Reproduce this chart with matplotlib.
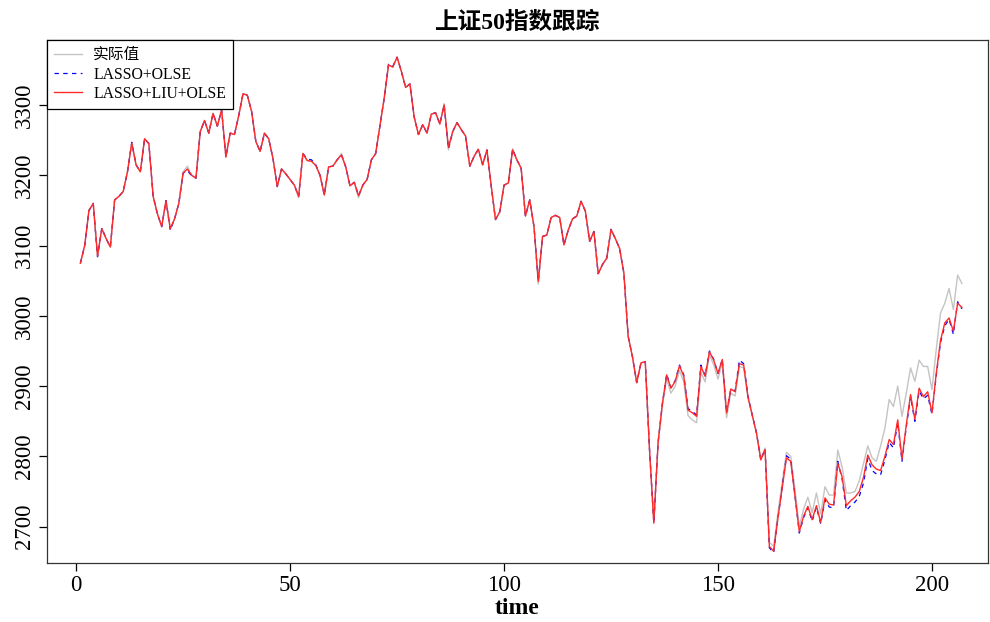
import matplotlib
matplotlib.use('Agg')
import matplotlib.pyplot as plt
import numpy as np

### SSE 50 index tracking: actual vs. two fitted portfolios

# LASSO+LIU+OLSE tracking values
liu = [3075, 3100, 3150, 3160, 3085, 3124, 3110, 3098, 3165, 3170,
       3177, 3205, 3246, 3215, 3205, 3252, 3245, 3170, 3145, 3127,
       3164, 3124, 3138, 3160, 3203, 3209, 3200, 3196, 3262, 3278,
       3260, 3288, 3270, 3293, 3226, 3260, 3258, 3285, 3316, 3314,
       3291, 3248, 3234, 3260, 3252, 3224, 3184, 3209, 3202, 3194,
       3186, 3170, 3231, 3221, 3220, 3214, 3200, 3172, 3212, 3213,
       3222, 3229, 3212, 3185, 3190, 3171, 3186, 3194, 3222, 3231,
       3270, 3310, 3357, 3354, 3368, 3348, 3325, 3330, 3283, 3258,
       3272, 3260, 3287, 3289, 3273, 3300, 3240, 3262, 3275, 3265,
       3256, 3213, 3227, 3237, 3215, 3236, 3185, 3137, 3148, 3186,
       3189, 3236, 3222, 3210, 3142, 3165, 3127, 3049, 3113, 3115,
       3140, 3143, 3140, 3101, 3122, 3138, 3142, 3163, 3149, 3106,
       3120, 3060, 3073, 3082, 3123, 3110, 3096, 3061, 2971, 2942,
       2905, 2933, 2935, 2809, 2705, 2820, 2875, 2916, 2897, 2907,
       2929, 2914, 2866, 2862, 2857, 2928, 2914, 2949, 2937, 2918,
       2938, 2862, 2896, 2892, 2932, 2930, 2885, 2859, 2833, 2795,
       2810, 2672, 2665, 2712, 2755, 2798, 2793, 2743, 2693, 2715,
       2729, 2710, 2730, 2706, 2741, 2732, 2731, 2790, 2771, 2730,
       2737, 2742, 2750, 2770, 2802, 2788, 2782, 2780, 2800, 2824,
       2817, 2852, 2796, 2845, 2888, 2853, 2897, 2885, 2892, 2862,
       2918, 2965, 2990, 2997, 2978, 3018, 3012]

# LASSO+OLSE tracking values
olse = [3075, 3100, 3150, 3160, 3084, 3125, 3110, 3098, 3165, 3170,
        3177, 3205, 3247, 3215, 3205, 3252, 3245, 3170, 3145, 3127,
        3164, 3122, 3138, 3160, 3203, 3207, 3199, 3196, 3262, 3278,
        3260, 3288, 3270, 3293, 3226, 3260, 3258, 3285, 3316, 3314,
        3291, 3248, 3234, 3260, 3252, 3224, 3184, 3209, 3202, 3194,
        3186, 3170, 3231, 3223, 3222, 3215, 3200, 3172, 3212, 3213,
        3222, 3229, 3212, 3185, 3190, 3171, 3186, 3194, 3222, 3231,
        3270, 3310, 3358, 3355, 3368, 3348, 3325, 3330, 3283, 3258,
        3272, 3260, 3287, 3289, 3273, 3300, 3238, 3262, 3275, 3265,
        3256, 3213, 3227, 3237, 3215, 3236, 3185, 3137, 3148, 3186,
        3189, 3237, 3222, 3210, 3142, 3165, 3127, 3049, 3113, 3115,
        3140, 3143, 3140, 3101, 3122, 3138, 3142, 3163, 3149, 3106,
        3120, 3060, 3073, 3082, 3123, 3110, 3096, 3061, 2971, 2942,
        2905, 2933, 2935, 2809, 2705, 2820, 2875, 2917, 2898, 2908,
        2930, 2916, 2868, 2864, 2859, 2930, 2915, 2950, 2938, 2918,
        2938, 2862, 2896, 2893, 2937, 2932, 2886, 2859, 2833, 2795,
        2810, 2670, 2663, 2712, 2757, 2801, 2796, 2743, 2691, 2713,
        2727, 2708, 2728, 2704, 2738, 2728, 2727, 2793, 2768, 2723,
        2730, 2735, 2743, 2762, 2797, 2780, 2775, 2774, 2795, 2820,
        2812, 2848, 2793, 2842, 2885, 2850, 2893, 2882, 2887, 2860,
        2915, 2962, 2986, 2995, 2974, 3020, 3010]

# actual index values
actual = [3075, 3100, 3150, 3160, 3085, 3124, 3110, 3098, 3165, 3170,
          3177, 3205, 3246, 3215, 3205, 3252, 3245, 3170, 3145, 3127,
          3164, 3124, 3138, 3160, 3205, 3213, 3200, 3196, 3262, 3278,
          3260, 3288, 3270, 3293, 3226, 3260, 3258, 3285, 3316, 3314,
          3291, 3248, 3234, 3260, 3252, 3224, 3184, 3209, 3202, 3194,
          3186, 3168, 3231, 3221, 3220, 3214, 3200, 3172, 3212, 3213,
          3222, 3231, 3212, 3185, 3190, 3168, 3186, 3194, 3222, 3231,
          3270, 3310, 3357, 3354, 3368, 3348, 3325, 3330, 3283, 3258,
          3272, 3260, 3287, 3289, 3273, 3302, 3236, 3262, 3275, 3265,
          3256, 3213, 3227, 3237, 3215, 3236, 3185, 3137, 3148, 3186,
          3189, 3238, 3222, 3210, 3142, 3165, 3127, 3045, 3113, 3115,
          3140, 3143, 3140, 3101, 3122, 3138, 3142, 3163, 3149, 3106,
          3120, 3060, 3073, 3082, 3123, 3110, 3096, 3061, 2971, 2942,
          2905, 2933, 2935, 2809, 2707, 2818, 2872, 2910, 2890, 2900,
          2922, 2906, 2858, 2852, 2848, 2920, 2906, 2945, 2930, 2910,
          2933, 2855, 2890, 2886, 2928, 2926, 2883, 2858, 2833, 2797,
          2812, 2678, 2672, 2720, 2763, 2806, 2800, 2752, 2700, 2725,
          2742, 2720, 2748, 2718, 2757, 2745, 2745, 2809, 2785, 2748,
          2748, 2750, 2765, 2790, 2815, 2798, 2793, 2815, 2840, 2881,
          2871, 2900, 2857, 2890, 2926, 2907, 2937, 2928, 2928, 2895,
          2952, 3004, 3018, 3039, 3009, 3058, 3046]

t = np.arange(1, len(actual) + 1)

plt.rcParams['font.family'] = ['Liberation Serif', 'Noto Sans CJK SC']

fig = plt.figure(figsize=(9.9, 6.22), dpi=100)
ax = fig.add_axes([0.0475, 0.095, 0.9505, 0.8407])

ax.plot(t, actual, color='#C4C4C4', lw=1.0, label='实际值')
ax.plot(t, olse, color='#0000FF', lw=0.9, dashes=(3.5, 3.5), label='LASSO+OLSE')
ax.plot(t, liu, color='#FF2A2A', lw=1.0, label='LASSO+LIU+OLSE')

ax.set_xlim(-6.8, 213.1)
ax.set_ylim(2648.5, 3392.5)
ax.set_xticks([0, 50, 100, 150, 200])
ax.set_yticks([2700, 2800, 2900, 3000, 3100, 3200, 3300])
ax.tick_params(direction='out', length=6, width=0.9, labelsize=16.5, pad=3)
for lab in ax.get_yticklabels():
    lab.set_rotation(90)
    lab.set_va('center')
for s in ax.spines.values():
    s.set_linewidth(0.9)
    s.set_color('#333333')

ax.set_xlabel('time', fontsize=17, fontweight='bold', labelpad=1)
ax.set_title('上证50指数跟踪', fontsize=17, fontweight='bold', pad=8)

leg = ax.legend(loc='upper left', borderaxespad=0, fontsize=11.3, handlelength=1.75,
                handletextpad=0.75, borderpad=0.45, labelspacing=0.22, fancybox=False,
                framealpha=1)
leg.get_frame().set_edgecolor('black')
leg.get_frame().set_linewidth(0.9)

plt.savefig('out.png', dpi=100)
